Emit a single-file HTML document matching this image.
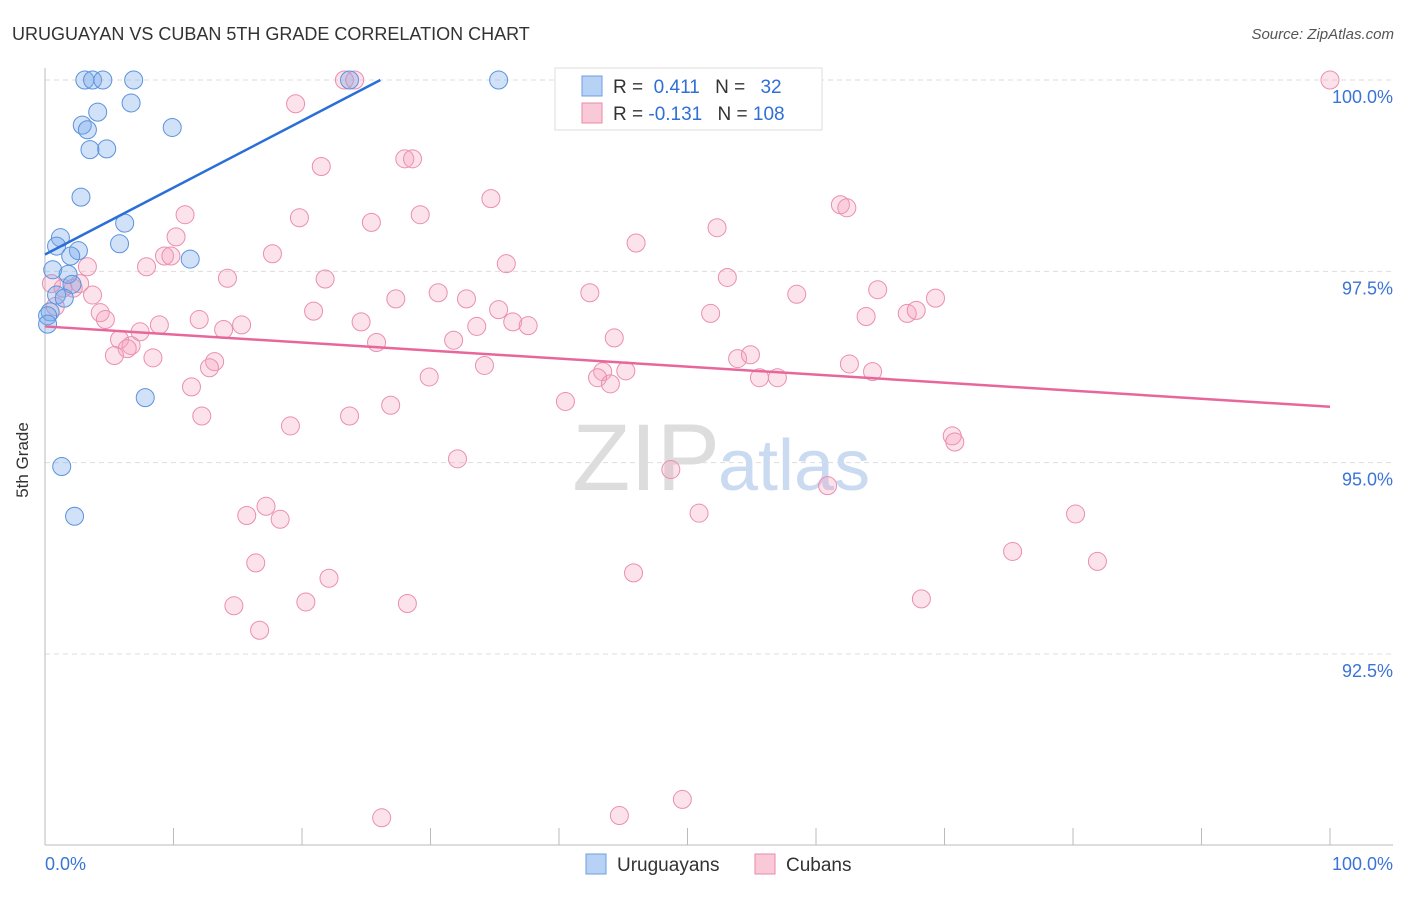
<!DOCTYPE html>
<html><head><meta charset="utf-8"><style>
body{margin:0;background:#fff;font-family:"Liberation Sans",sans-serif;}
svg text{font-family:"Liberation Sans",sans-serif;}
</style></head><body>
<svg id="c" width="1406" height="892" viewBox="0 0 1406 892" xmlns="http://www.w3.org/2000/svg">
<text x="12" y="40" font-size="18" fill="#333">URUGUAYAN VS CUBAN 5TH GRADE CORRELATION CHART</text>
<text x="1394" y="39" font-size="15" fill="#555" text-anchor="end" font-style="italic">Source: ZipAtlas.com</text>
<text x="23" y="455" font-size="17" fill="#333" text-anchor="middle" transform="rotate(-90 28 455)">5th Grade</text>
<g id="grid"></g>
<text x="720" y="490" font-size="95" fill="#ddd" text-anchor="end" font-family="Liberation Serif">ZIP</text>
<text x="718" y="490" font-size="72" fill="#c9daf1">atlas</text>
<g id="pts"></g>
<g id="lines"></g>
<g>
<rect x="555" y="68" width="267" height="62" fill="#fff" stroke="#ddd"/>
<rect x="582" y="76" width="20" height="20" fill="#b7d2f5" stroke="#6a9fe0"/>
<rect x="582" y="103" width="20" height="20" fill="#f9c9d8" stroke="#e88aa8"/>
<text x="613" y="93" font-size="19" fill="#333">R = <tspan fill="#2f6fd6">&#160;0.411</tspan>   <tspan dx="10">N = </tspan><tspan fill="#2f6fd6" dx="10">32</tspan></text>
<text x="613" y="120" font-size="19" fill="#333">R = <tspan fill="#2f6fd6">-0.131</tspan>   <tspan dx="10">N = </tspan><tspan fill="#2f6fd6">108</tspan></text>
</g>
<g>
<rect x="586" y="854" width="20" height="20" fill="#b7d2f5" stroke="#6a9fe0"/>
<text x="617" y="871" font-size="19" fill="#333">Uruguayans</text>
<rect x="755" y="854" width="20" height="20" fill="#f9c9d8" stroke="#e88aa8"/>
<text x="786" y="871" font-size="19" fill="#333">Cubans</text>
</g>
</svg>
<script>
const yTicks=[100,97.5,95,92.5];
const yTickLabels=["100.0%","97.5%","95.0%","92.5%"];
const blueX=[3.1,3.7,4.5,6.9,23.7,35.3,6.7,4.1,2.9,3.3,9.9,3.5,4.8,2.8,6.2,1.2,0.9,2.6,5.8,2.0,11.3,0.6,1.8,2.1,0.9,1.5,0.4,0.2,0.2,7.8,1.3,2.3];
const blueY=[100,100,100,100,100,100,99.7,99.58,99.41,99.35,99.38,99.09,99.1,98.47,98.13,97.94,97.83,97.77,97.86,97.70,97.66,97.52,97.46,97.33,97.19,97.15,96.97,96.92,96.81,95.85,94.95,94.3];
const pinkX=[100,23.3,24.1,19.5,21.5,28.0,28.6,34.7,61.9,62.4,10.9,19.8,25.4,29.2,52.3,10.2,46.0,9.3,9.8,17.7,3.3,7.9,35.9,14.2,21.8,53.1,0.5,1.4,2.2,2.7,3.7,30.6,42.4,27.3,32.8,58.5,64.8,69.3,0.8,4.3,20.9,35.3,51.8,63.9,67.1,67.8,4.7,12.0,15.3,8.9,24.6,36.4,37.6,33.6,7.4,13.9,5.8,25.8,31.8,44.3,6.7,6.4,5.4,8.4,13.2,12.8,34.2,53.9,54.9,62.6,43.4,45.2,43.0,44.0,29.9,55.6,57.0,64.4,11.4,40.5,26.9,12.2,23.7,19.1,70.6,70.8,32.1,48.7,60.9,17.2,15.7,18.3,50.9,80.2,75.3,16.4,81.9,22.1,45.8,14.7,20.3,28.2,68.2,16.7,49.6,26.2,44.7];
const pinkY=[100,100,100,99.69,98.87,98.97,98.97,98.45,98.37,98.33,98.24,98.2,98.14,98.24,98.07,97.95,97.87,97.70,97.70,97.73,97.56,97.56,97.60,97.41,97.40,97.42,97.34,97.28,97.28,97.34,97.19,97.22,97.22,97.14,97.14,97.2,97.26,97.15,97.04,96.96,96.98,97.0,96.95,96.91,96.95,96.99,96.87,96.87,96.80,96.80,96.84,96.84,96.79,96.78,96.71,96.74,96.61,96.57,96.6,96.63,96.53,96.49,96.4,96.37,96.32,96.24,96.27,96.36,96.41,96.29,96.19,96.2,96.11,96.03,96.12,96.11,96.11,96.19,95.99,95.8,95.75,95.61,95.61,95.48,95.35,95.27,95.05,94.91,94.7,94.43,94.31,94.26,94.34,94.33,93.84,93.69,93.71,93.49,93.56,93.13,93.18,93.16,93.22,92.81,90.6,90.36,90.39];
const blueTrend=[0,97.72,26.1,100];
const pinkTrend=[0,96.78,100,95.73];
const ns="http://www.w3.org/2000/svg";
const X0=45,X1=1330,Yt=80,Yb=654;
function sx(v){return X0+(X1-X0)*v/100;}
function sy(v){return Yt+(100-v)*(Yb-Yt)/7.5;}
const grid=document.getElementById('grid');
function mk(tag,attrs,parent){const e=document.createElementNS(ns,tag);for(const k in attrs)e.setAttribute(k,attrs[k]);parent.appendChild(e);return e;}
yTicks.forEach((t,i)=>{
 const l=mk('line',{x1:X0,x2:1393,y1:sy(t),y2:sy(t),stroke:'#ddd','stroke-dasharray':'5,4'},grid);
 
 
 const tx=mk('text',{x:1393,y:sy(t)+23,'font-size':18,fill:'#3a74d6','text-anchor':'end'},grid);
 tx.textContent=yTickLabels[i];
 
 
});
const ax=mk('line',{x1:X0,x2:1393,y1:845,y2:845,stroke:'#bbb'},grid);


const ay=mk('line',{x1:X0,x2:X0,y1:68,y2:845,stroke:'#bbb'},grid);


for(let i=0;i<=10;i++){
 const t=mk('line',{x1:sx(i*10),x2:sx(i*10),y1:828,y2:845,stroke:'#bbb'},grid);
 
 
}
const xl=mk('text',{x:45,y:870,'font-size':18,fill:'#3a74d6'},grid);xl.textContent='0.0%';


const xr=mk('text',{x:1393,y:870,'font-size':18,fill:'#3a74d6','text-anchor':'end'},grid);xr.textContent='100.0%';


const pts=document.getElementById('pts');
pinkX.forEach((x,i)=>{
 const c=mk('circle',{cx:sx(x),cy:sy(pinkY[i]),r:9,fill:'rgba(244,160,190,0.3)',stroke:'#eb8fae','stroke-width':1},pts);
 
 
});
blueX.forEach((x,i)=>{
 const c=mk('circle',{cx:sx(x),cy:sy(blueY[i]),r:9,fill:'rgba(120,170,235,0.35)',stroke:'#5b93dd','stroke-width':1},pts);
 
 
});
const lines=document.getElementById('lines');
const bl=mk('line',{x1:sx(blueTrend[0]),y1:sy(blueTrend[1]),x2:sx(blueTrend[2]),y2:sy(blueTrend[3]),stroke:'#2a6fd8','stroke-width':2.5},lines);


const pl=mk('line',{x1:sx(pinkTrend[0]),y1:sy(pinkTrend[1]),x2:sx(pinkTrend[2]),y2:sy(pinkTrend[3]),stroke:'#e8679a','stroke-width':2.5},lines);


</script>
</body></html>
